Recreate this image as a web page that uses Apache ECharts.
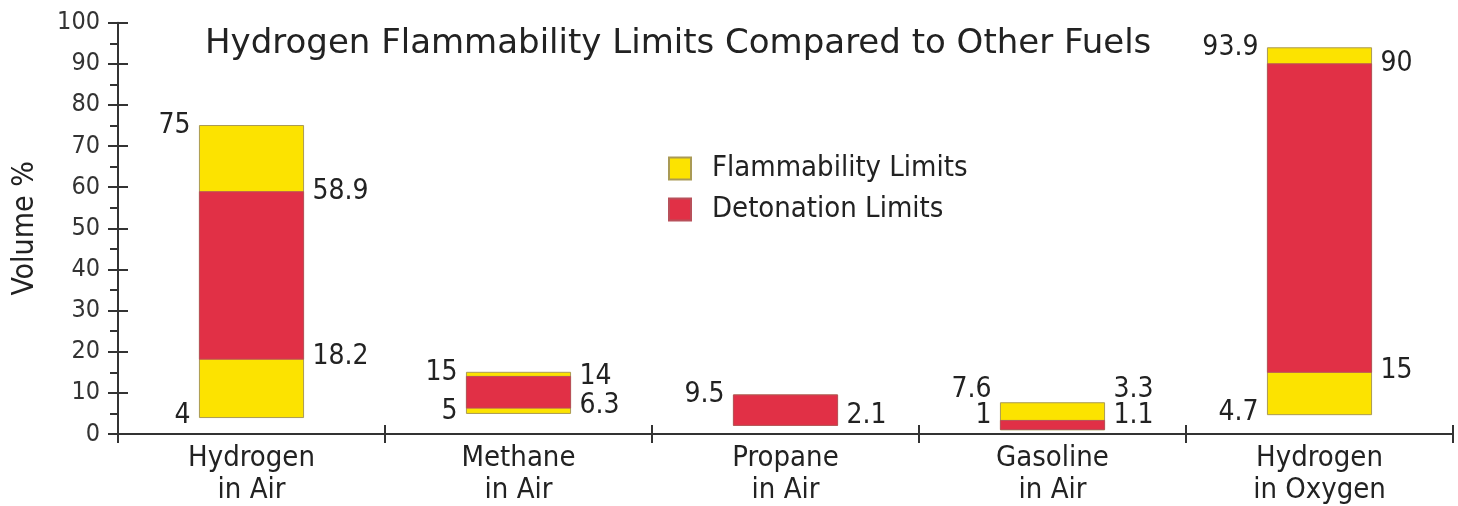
<!DOCTYPE html>
<html>
<head>
<meta charset="utf-8">
<script src="https://cdn.jsdelivr.net/npm/echarts@6/dist/echarts.min.js"></script>
<style>
  html, body { margin: 0; padding: 0; background: #fff; }
  #chart { width: 1458px; height: 506px; }
</style>
</head>
<body>
<div id="chart"></div>
<script>
// Fuel / oxidant combinations along the horizontal axis
const categories = ['Hydrogen\nin Air', 'Methane\nin Air', 'Propane\nin Air', 'Gasoline\nin Air', 'Hydrogen\nin Oxygen'];

// Flammability limits (volume %)
const flamLow  = [4,    5,   2.1, 1,   4.7];
const flamHigh = [75,   15,  9.5, 7.6, 93.9];

// Detonation limits (volume %)
const detLow   = [18.2, 6.3, 2.1, 1.1, 15];
const detHigh  = [58.9, 14,  9.5, 3.3, 90];

// Vertical scale
const yMin = 0, yMax = 100, yStep = 10;

const FONT = "'DejaVu Sans Condensed', 'Liberation Sans Narrow', 'DejaVu Sans', sans-serif";
const TITLE_FONT = "'DejaVu Sans', sans-serif";
const INK = '#222222';
const YELLOW = '#FCE300';
const RED = '#E13046';

const rows = categories.map((c, i) => [i, flamLow[i], flamHigh[i], detLow[i], detHigh[i]]);

const BAR_FRACTION = 0.39;   // bar width relative to one category band
const LABEL_GAP = 9;         // space between a bar and its value labels
const LINE_STEP = 26;        // minimum spacing between stacked labels

function valueText(v, x, y, align) {
  return {
    type: 'text',
    style: {
      text: String(v), x: x, y: y,
      align: align, verticalAlign: 'middle',
      textAlign: align, textVerticalAlign: 'middle',
      fontSize: 28, fontFamily: FONT, fill: INK
    }
  };
}

// Keeps a pair of labels above the axis line and apart from each other
function labelYs(api, x, lo, hi, showLo) {
  const floorY = api.coord([x, 0])[1] - 18;
  const pLo = api.coord([x, lo])[1];
  const pHi = api.coord([x, hi])[1];
  const yLo = Math.min(pLo - 2, floorY);
  const yHi = showLo ? Math.min(pHi, yLo - LINE_STEP) : Math.min(pHi, floorY);
  return [yLo, yHi];
}

function rangeBar(api, x, lo, hi, fill, stroke) {
  const bw = api.size([1, 0])[0] * BAR_FRACTION;
  const pLo = api.coord([x, lo]);
  const pHi = api.coord([x, hi]);
  return {
    bw: bw,
    left: pLo[0] - bw / 2,
    el: {
      type: 'rect',
      shape: { x: pLo[0] - bw / 2, y: pHi[1], width: bw, height: pLo[1] - pHi[1] },
      style: { fill: fill, stroke: stroke, lineWidth: 1 }
    }
  };
}

function renderFlammability(params, api) {
  const x = api.value(0);
  const lo = api.value(1), hi = api.value(2), dLo = api.value(3);
  const bar = rangeBar(api, x, lo, hi, YELLOW, '#a99a55');
  const showLo = lo !== dLo;
  const ys = labelYs(api, x, lo, hi, showLo);
  const lx = bar.left - LABEL_GAP;
  const children = [bar.el, valueText(hi, lx, ys[1], 'right')];
  if (showLo) children.push(valueText(lo, lx, ys[0], 'right'));
  return { type: 'group', children: children };
}

function renderDetonation(params, api) {
  const x = api.value(0);
  const fHi = api.value(2);
  const lo = api.value(3), hi = api.value(4);
  const bar = rangeBar(api, x, lo, hi, RED, '#b8505a');
  const showHi = hi !== fHi;
  const ys = labelYs(api, x, lo, hi, true);
  const rx = bar.left + bar.bw + LABEL_GAP;
  const children = [bar.el, valueText(lo, rx, ys[0], 'left')];
  if (showHi) children.push(valueText(hi, rx, ys[1], 'left'));
  return { type: 'group', children: children };
}

const chart = echarts.init(document.getElementById('chart'), null, { renderer: 'canvas' });

chart.setOption({
  animation: false,
  backgroundColor: '#ffffff',
  title: {
    text: 'Hydrogen Flammability Limits Compared to Other Fuels',
    left: 205,
    top: 24,
    padding: 0,
    textStyle: { fontFamily: TITLE_FONT, fontSize: 34, fontWeight: 'normal', color: INK, lineHeight: 40 }
  },
  legend: {
    orient: 'vertical',
    left: 668,
    top: 154,
    padding: 0,
    icon: 'rect',
    itemWidth: 22,
    itemHeight: 22,
    itemGap: 12,
    selectedMode: false,
    data: ['Flammability Limits', 'Detonation Limits'],
    textStyle: { fontFamily: FONT, fontSize: 29, color: INK, padding: [0, 0, 0, 16] }
  },
  grid: { left: 118, right: 5, top: 22.7, bottom: 72, containLabel: false, outerBoundsMode: 'none' },
  xAxis: [
    {
      type: 'category',
      data: categories,
      boundaryGap: true,
      axisLine: { show: true, lineStyle: { color: '#333', width: 2 } },
      axisTick: { show: false },
      axisLabel: { fontFamily: FONT, fontSize: 29, lineHeight: 32, color: INK, margin: 8, interval: 0 },
      splitLine: { show: false }
    },
    {
      // crossing ticks at the band boundaries
      type: 'category',
      data: categories,
      position: 'bottom',
      offset: -9,
      boundaryGap: true,
      axisLine: { show: false },
      axisTick: { show: true, length: 18, interval: 0, lineStyle: { color: '#333', width: 2 } },
      axisLabel: { show: false },
      splitLine: { show: false }
    }
  ],
  yAxis: [
    {
      type: 'value',
      min: yMin, max: yMax, interval: yStep,
      name: 'Volume %',
      nameLocation: 'middle',
      nameGap: 78,
      nameRotate: 90,
      nameTextStyle: { fontFamily: FONT, fontSize: 30, color: INK },
      axisLine: { show: true, lineStyle: { color: '#333', width: 2 } },
      axisTick: { show: false },
      minorTick: { show: true, splitNumber: 2, length: 8, lineStyle: { color: '#333', width: 2 } },
      axisLabel: { fontFamily: FONT, fontSize: 25, color: '#333', margin: 18 },
      splitLine: { show: false },
      minorSplitLine: { show: false }
    },
    {
      // major ticks crossing the vertical axis line
      type: 'value',
      position: 'left',
      min: yMin, max: yMax, interval: yStep,
      offset: -10,
      axisLine: { show: false },
      axisTick: { show: true, length: 20, lineStyle: { color: '#333', width: 2 } },
      axisLabel: { show: false },
      splitLine: { show: false }
    }
  ],
  series: [
    {
      name: 'Flammability Limits',
      type: 'custom',
      xAxisIndex: 0, yAxisIndex: 0,
      itemStyle: { color: YELLOW, borderColor: '#a99a55', borderWidth: 1 },
      renderItem: renderFlammability,
      data: rows,
      clip: false,
      z: 2
    },
    {
      name: 'Detonation Limits',
      type: 'custom',
      xAxisIndex: 0, yAxisIndex: 0,
      itemStyle: { color: RED, borderColor: '#b8505a', borderWidth: 1 },
      renderItem: renderDetonation,
      data: rows,
      clip: false,
      z: 3
    }
  ]
});
</script>
</body>
</html>
